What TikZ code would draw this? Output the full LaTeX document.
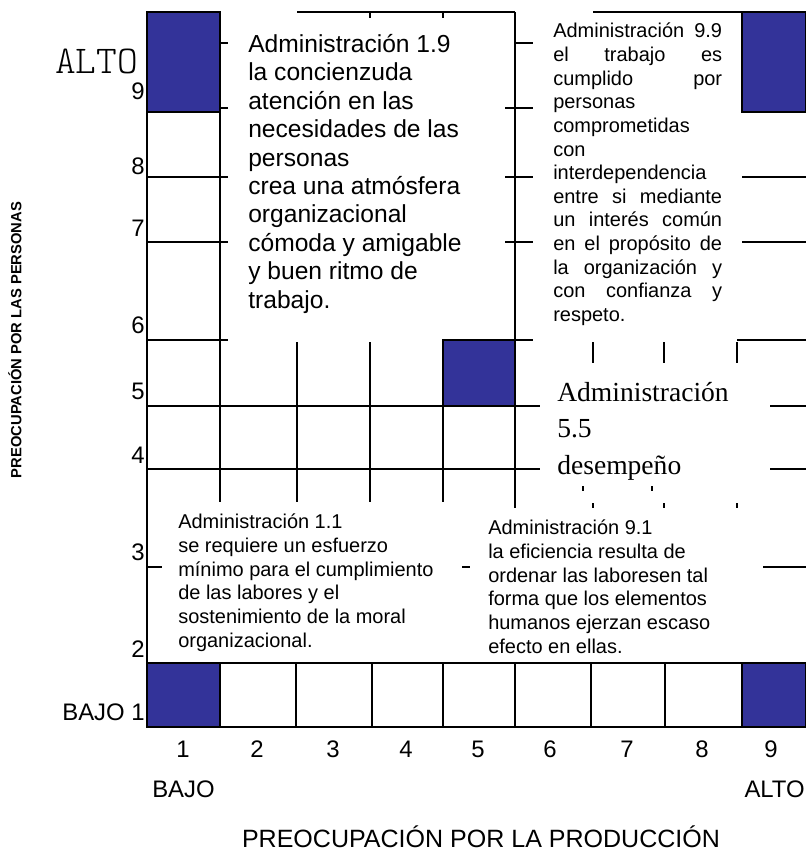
\documentclass[tikz,border=0pt]{standalone}
\usepackage{fontspec}
\setmainfont{Liberation Sans}
\newfontfamily\timesfont{Liberation Serif}
\usepackage{tikz}

\definecolor{gridblue}{RGB}{51,51,153}
\newcommand{\jline}[1]{\makebox[4.22cm][s]{#1}}

\begin{document}
\begin{tikzpicture}[x=0.025cm,y=-0.025cm]
				\tikzstyle{ln}=[line width=1pt]
				\tikzstyle{b1}=[fill=gridblue, draw=black, line width=1pt]
				\tikzstyle{ax}=[inner sep=0pt, font=\fontsize{17}{20}\selectfont]
				\tikzstyle{big}=[inner sep=0pt, anchor=north west, align=left, font=\fontsize{17.5}{20.2}\selectfont]
				\tikzstyle{small}=[inner sep=0pt, anchor=north west, align=left, font=\fontsize{14.2}{16.8}\selectfont]

				\useasboundingbox (0,0) rectangle (806,859);

				% blue cells
				\draw[b1] (147,12) rectangle (220,112);
				\draw[b1] (742,12) rectangle (806,112);
				\draw[b1] (443,340) rectangle (515,406);
				\draw[b1] (147,663) rectangle (220,727);
				\draw[b1] (742,663) rectangle (806,727);

				% left column and middle of the grid
				\draw[ln] (147,12) -- (147,727);
				\draw[ln] (220,12) -- (220,502);
				\draw[ln] (515,12) -- (515,508);
				\foreach \y in {177,242,340}
				\draw[ln] (147,\y) -- (228,\y);
				\foreach \y in {43,108}
				\draw[ln] (220,\y) -- (228,\y);
				\foreach \y in {406,469}
				\draw[ln] (147,\y) -- (540,\y);
				\foreach \x in {297,370,443}
				\draw[ln] (\x,342) -- (\x,502);
				\draw[ln] (515,340) -- (533,340);

				% top edge
				\draw[ln] (297,12) -- (515,12);
				\draw[ln] (593,12) -- (742,12);
				\foreach \x in {370,443}
				\draw[ln] (\x,12) -- (\x,18);
				\draw[ln] (515,43) -- (533,43);
				\foreach \y in {108,177,242}
				\draw[ln] (505,\y) -- (533,\y);

				% right side
				\foreach \y in {177,242}
				\draw[ln] (742,\y) -- (806,\y);
				\draw[ln] (737,340) -- (806,340);
				\foreach \x in {593,664,737}
				\draw[ln] (\x,342) -- (\x,363);
				\foreach \y in {406,469}
				\draw[ln] (770,\y) -- (806,\y);
				\foreach \x in {593,664,737}
				\draw[ln] (\x,503) -- (\x,508);
				\foreach \x in {583,652}
				\draw[ln] (\x,486) -- (\x,491);

				% row 3 remains
				\draw[ln] (147,567) -- (162,567);
				\draw[ln] (462,567) -- (470,567);
				\draw[ln] (763,567) -- (806,567);

				% bottom row
				\draw[ln] (147,663) -- (806,663);
				\draw[ln] (147,727) -- (806,727);
				\foreach \x in {296,372,443,515,591,665}
				\draw[ln] (\x,663) -- (\x,727);

				% texts of the styles
				\node[big] (a19) at (248,34) {Administración 1.9\\la concienzuda\\atención en las\\necesidades de las\\personas\\crea una atmósfera\\organizacional\\cómoda y amigable\\y buen ritmo de\\trabajo.};
				\node[small] (a99) at (553,23) {\jline{Administración 9.9}\\\jline{el trabajo es}\\\jline{cumplido por}\\personas\\comprometidas\\con\\interdependencia\\\jline{entre si mediante}\\\jline{un interés común}\\\jline{en el propósito de}\\\jline{la organización y}\\\jline{con confianza y}\\respeto.};
				\node[inner sep=0pt, anchor=north west, align=left, font=\timesfont\fontsize{19.6}{25.8}\selectfont] (a55) at (557,382) {Administración\\5.5\\desempeño};
				\node[small] (a11) at (178,514) {Administración 1.1\\se requiere un esfuerzo\\mínimo para el cumplimiento\\de las labores y el\\sostenimiento de la moral\\organizacional.};
				\node[small] (a91) at (488,520) {Administración 9.1\\la eficiencia resulta de\\ordenar las laboresen tal\\forma que los elementos\\humanos ejerzan escaso\\efecto en ellas.};

				% axis of people
				\node[inner sep=0pt, anchor=base east, font=\fontseries{l}\ttfamily\fontsize{28}{30}\selectfont] (alto1) at (138,74) {ALTO};
				\foreach \n/\y in {9/100,8/175,7/237,6/333,5/399,4/463,3/560,2/657}
				\node[ax, anchor=base east] (r\n) at (145,\y) {\n};
				\node[ax, anchor=base east] (r1) at (145,720) {BAJO 1};
				\node[inner sep=0pt, rotate=90, font=\bfseries\fontsize{10.5}{12}\selectfont] (yax) at (15,340) {PREOCUPACIÓN POR LAS PERSONAS};

				% axis of production
				\foreach \n/\x in {1/183,2/257,3/333,4/406,5/478,6/550,7/627,8/702,9/771}
				\node[ax, anchor=base] (c\n) at (\x,757) {\n};
				\node[ax, anchor=base west] (bajo) at (152,797) {BAJO};
				\node[ax, anchor=base east] (alto2) at (805,797) {ALTO};
				\node[ax, anchor=base, font=\fontsize{17.8}{20}\selectfont] (xax) at (481,847) {PREOCUPACIÓN POR LA PRODUCCIÓN};
			\end{tikzpicture}
\end{document}
